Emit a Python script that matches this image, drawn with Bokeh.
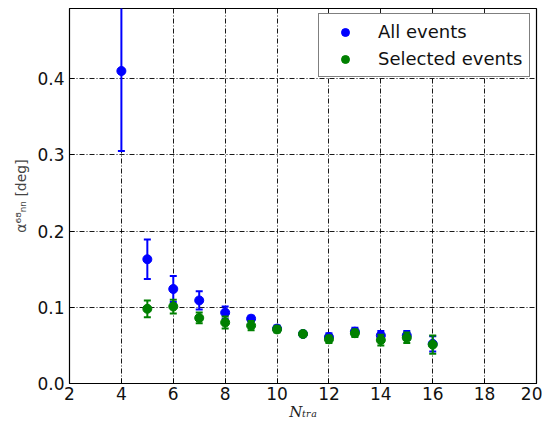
from bokeh.plotting import figure
from bokeh.models import Range1d, FixedTicker, Legend, LegendItem, ColumnDataSource, CustomJSTickFormatter
from bokeh.embed import file_html
from bokeh.resources import INLINE

# Data
n_all = [4, 5, 6, 7, 8, 9, 10, 11, 12, 13, 14, 15, 16]
all_val = [0.41, 0.163, 0.124, 0.109, 0.093, 0.085, 0.072, 0.065, 0.061, 0.068, 0.063, 0.063, 0.052]
all_err = [0.105, 0.026, 0.017, 0.012, 0.008, 0.004, 0.004, 0.003, 0.005, 0.005, 0.006, 0.006, 0.010]
n_sel = [5, 6, 7, 8, 9, 10, 11, 12, 13, 14, 15, 16]
sel_val = [0.098, 0.101, 0.086, 0.080, 0.076, 0.071, 0.065, 0.058, 0.066, 0.057, 0.060, 0.051]
sel_err = [0.011, 0.009, 0.007, 0.008, 0.006, 0.004, 0.003, 0.005, 0.005, 0.007, 0.007, 0.012]
x_ticks = [2, 4, 6, 8, 10, 12, 14, 16, 18, 20]
y_ticks = [0.0, 0.1, 0.2, 0.3, 0.4]

FONT = "DejaVu Sans"

p = figure(frame_width=467, frame_height=375, output_backend="svg", toolbar_location=None,
           x_range=Range1d(2, 20), y_range=Range1d(0, 0.492),
           min_border_left=69, min_border_right=6, min_border_top=8, min_border_bottom=0)
p.background_fill_color = "white"
p.border_fill_color = "white"
p.outline_line_color = "black"
p.outline_line_width = 1.2

for ax in (p.xaxis[0], p.yaxis[0]):
    ax.major_label_text_font = FONT
    ax.major_label_text_font_size = "17px"
    ax.major_label_text_color = "#111111"
    ax.major_tick_in = 5
    ax.major_tick_out = 0
    ax.minor_tick_in = 0
    ax.minor_tick_out = 0
    ax.axis_line_color = "black"
    ax.major_tick_line_color = "black"
    ax.axis_label_text_font_style = "italic"
    ax.axis_label_text_color = "#222222"

p.xaxis.ticker = FixedTicker(ticks=x_ticks)
p.yaxis.ticker = FixedTicker(ticks=y_ticks)
p.yaxis.formatter = CustomJSTickFormatter(code="return tick.toFixed(1);")
p.xaxis.major_label_standoff = 3
p.yaxis.major_label_standoff = 5

p.xaxis.axis_label = "Nₜᵣₐ"
p.xaxis.axis_label_text_font = "DejaVu Serif"
p.xaxis.axis_label_text_font_size = "15px"
p.xaxis.axis_label_standoff = 0
p.yaxis.axis_label = "α⁶⁸ₙₙ [deg]"
p.yaxis.axis_label_text_font = FONT
p.yaxis.axis_label_text_font_size = "14px"
p.yaxis.axis_label_text_font_style = "normal"
p.yaxis.axis_label_text_color = "#444444"
p.yaxis.axis_label_standoff = 5

for g in (p.xgrid[0], p.ygrid[0]):
    g.grid_line_color = "black"
    g.grid_line_dash = "5 2 1 2"
    g.grid_line_width = 1
    g.grid_line_alpha = 0.9


def add_series(xs, ys, es, color):
    src = ColumnDataSource(dict(x=xs, y=ys,
                                lo=[y - e for y, e in zip(ys, es)],
                                hi=[y + e for y, e in zip(ys, es)]))
    p.segment(x0="x", y0="lo", x1="x", y1="hi", source=src,
              line_color=color, line_width=2)
    p.scatter(x="x", y="lo", source=src, marker="dash", size=7,
              line_color=color, line_width=2)
    p.scatter(x="x", y="hi", source=src, marker="dash", size=7,
              line_color=color, line_width=2)
    c = p.scatter(x="x", y="y", source=src, marker="circle", size=9,
                  fill_color=color, line_color=color)
    return c


c_all = add_series(n_all, all_val, all_err, "#0000ff")
c_sel = add_series(n_sel, sel_val, sel_err, "#008000")

legend = Legend(items=[LegendItem(label="All events", renderers=[c_all]),
                       LegendItem(label="Selected events", renderers=[c_sel])],
                location=(249, 306))
legend.label_text_font = FONT
legend.label_text_font_size = "18px"
legend.label_text_color = "#111111"
legend.border_line_color = "black"
legend.border_line_width = 1
legend.background_fill_alpha = 1
legend.padding = 7
legend.spacing = 6
legend.glyph_width = 38
legend.glyph_height = 20
legend.label_height = 20
legend.label_standoff = 14
legend.margin = 0
p.add_layout(legend, "center")

open("out.html", "w").write(file_html(p, INLINE))
